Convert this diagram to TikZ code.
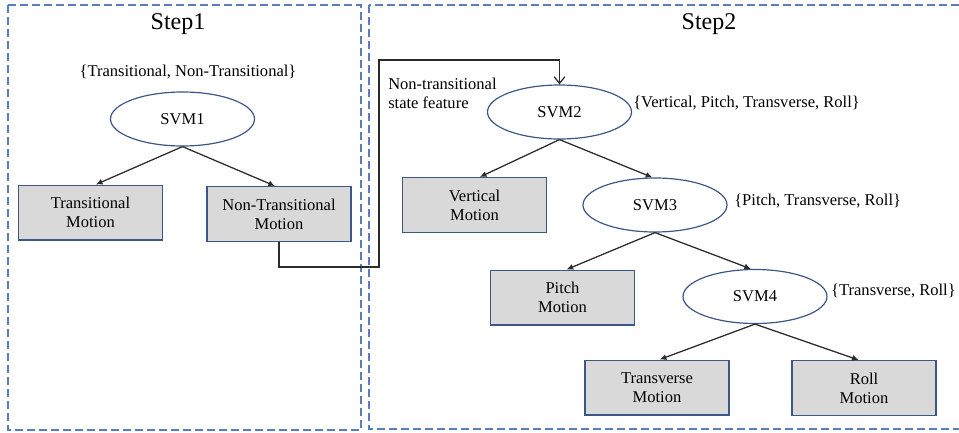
\documentclass[tikz,border=0pt]{standalone}
\usepackage{fontspec}
\setmainfont{Liberation Serif}
\usetikzlibrary{shapes.geometric,arrows.meta}
\definecolor{frameblue}{HTML}{5A7EBD}
\definecolor{nodeblue}{HTML}{3D5688}
\definecolor{boxfill}{HTML}{D9D9D9}
\definecolor{linegray}{HTML}{2B2B2B}
\tikzset{
  frame/.style={draw=frameblue, line width=1pt, dash pattern=on 6pt off 3pt},
  svm/.style={ellipse, draw=nodeblue, line width=0.9pt, fill=white, minimum width=108pt, minimum height=40.5pt, inner sep=0pt, font=\fontsize{12.4}{14}\selectfont},
  motion/.style={rectangle, draw=nodeblue, line width=1pt, fill=boxfill, minimum width=108pt, minimum height=41pt, inner sep=0pt, align=center, font=\fontsize{12.4}{14.25}\selectfont},
  lbl/.style={inner sep=0pt, font=\fontsize{12.4}{14}\selectfont},
  title/.style={inner sep=0pt, font=\fontsize{18}{20}\selectfont},
  branch/.style={draw=linegray, line width=0.95pt, -{Latex[length=5pt,width=4.5pt]}},
  link/.style={draw=linegray, line width=0.95pt, -{Straight Barb[length=5pt,width=8pt]}}
}
\begin{document}
\begin{tikzpicture}[x=0.75pt,y=-0.75pt]
\useasboundingbox (0,0) rectangle (959,432);
\begin{scope}
\clip (0,0) rectangle (959,432);
\draw[frame] (8,5) rectangle (361,430);
\draw[frame] (369,5) rectangle (966,429);
\end{scope}
\node[title] (t1) at (178,24) {Step1};
\node[title] (t2) at (709,24) {Step2};
% step 1
\node[lbl] (l1) at (188,72) {\{Transitional, Non-Transitional\}};
\node[svm] (svm1) at (182.5,119) {SVM1};
\node[motion] (tm) at (90.5,212.5) {Transitional\\Motion};
\node[motion] (ntm) at (279,214) {Non-Transitional\\Motion};
\draw[branch] (svm1.south) -- ([xshift=4pt]tm.north);
\draw[branch] (svm1.south) -- ([xshift=-3pt]ntm.north);
% step 2
\node[svm] (svm2) at (559.5,112) {SVM2};
\node[lbl, anchor=west] (l2) at (633,103) {\{Vertical, Pitch, Transverse, Roll\}};
\node[lbl, anchor=north west, align=left] (ntf) at (388,78) {Non-transitional\\state feature};
\node[motion] (vm) at (474.5,205) {Vertical\\Motion};
\node[svm] (svm3) at (655,205) {SVM3};
\node[lbl, anchor=west] (l3) at (734,201) {\{Pitch, Transverse, Roll\}};
\node[motion] (pm) at (562.5,297.5) {Pitch\\Motion};
\node[svm] (svm4) at (755,296.5) {SVM4};
\node[lbl, anchor=east] (l4) at (956,291) {\{Transverse, Roll\}};
\node[motion] (trm) at (657,387.5) {Transverse\\Motion};
\node[motion] (rm) at (864,388) {Roll\\Motion};
\draw[branch] (svm2.south) -- ([xshift=4pt]vm.north);
\draw[branch] (svm2.south) -- ([xshift=-2pt]svm3.north);
\draw[branch] (svm3.south) -- ([xshift=3pt]pm.north);
\draw[branch] (svm3.south) -- ([xshift=-3pt]svm4.north);
\draw[branch] (svm4.south) -- ([xshift=2pt]trm.north);
\draw[branch] (svm4.south) -- ([xshift=-4pt]rm.north);
% connector
\coordinate (c1) at (379,267);
\coordinate (c2) at (379,60);
\draw[link] (ntm.south) |- (c1) -- (c2) -| (svm2.north);
\end{tikzpicture}
\end{document}
